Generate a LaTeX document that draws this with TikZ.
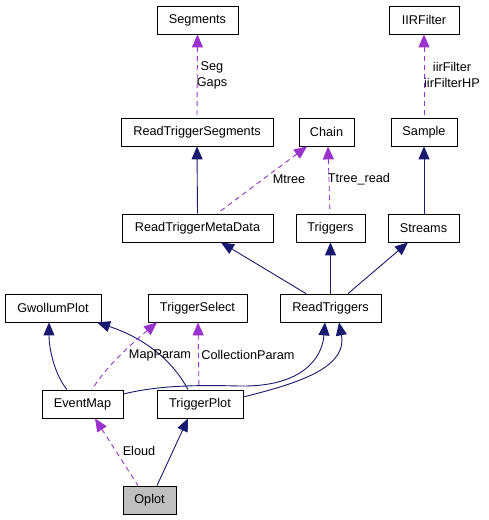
\documentclass[tikz,border=0pt]{standalone}
\usepackage{fontspec}
\setmainfont{Liberation Sans}
\usetikzlibrary{arrows.meta}
\definecolor{navyc}{HTML}{191970}
\definecolor{purc}{HTML}{9A32CD}
\definecolor{grayc}{HTML}{BFBFBF}
\tikzset{
  box/.style={draw=black, line width=0.8pt, fill=white, inner sep=0pt, minimum height=28pt,
    font=\fontsize{12.7}{14}\selectfont},
  lab/.style={inner sep=0pt, align=center, font=\fontsize{12.7}{16}\selectfont},
  inh/.style={draw=navyc, line width=0.9pt, {Triangle[length=13pt,width=11pt]}-},
  use/.style={draw=purc, line width=0.9pt, dash pattern=on 5pt off 4pt, {Triangle[length=13pt,width=11pt]}-},
}
\begin{document}
\begin{tikzpicture}[x=1pt,y=-1pt]
\useasboundingbox[fill=white] (0,0) rectangle (488,520);
\node[box, minimum width=81pt] (seg) at (197.5,20) {Segments};
\node[box, minimum width=70pt] (iir) at (424,20) {IIRFilter};
\node[box, minimum width=152pt] (rts) at (197,132) {ReadTriggerSegments};
\node[box, minimum width=55pt] (chain) at (326.5,132) {Chain};
\node[box, minimum width=66pt] (sample) at (424,132) {Sample};
\node[box, minimum width=151pt] (rtmd) at (197.5,228) {ReadTriggerMetaData};
\node[box, minimum width=69pt] (trig) at (330.5,228) {Triggers};
\node[box, minimum width=71pt] (streams) at (423.5,228) {Streams};
\node[box, minimum width=96pt] (gw) at (53,308) {GwollumPlot};
\node[box, minimum width=99pt] (tsel) at (197.5,308) {TriggerSelect};
\node[box, minimum width=101pt] (rt) at (330.5,308) {ReadTriggers};
\node[box, minimum width=81pt] (em) at (82.5,404) {EventMap};
\node[box, minimum width=86pt] (tp) at (200,404) {TriggerPlot};
\node[box, minimum width=53pt, fill=grayc] (oplot) at (149.5,500) {Oplot};

% top level
\draw[use] (seg.south) -- (rts.north);
\draw[use] (iir.south) -- (sample.north);
\draw[inh] (rts.south) -- (rtmd.north);
\draw[use] ([xshift=-19.5pt]chain.south) -- ([xshift=19.5pt]rtmd.north);
\draw[use] ([xshift=1.5pt]chain.south) -- ([xshift=-0.5pt]trig.north);
\draw[inh] (sample.south) -- ([xshift=0.5pt]streams.north);
\draw[inh] ([xshift=23.5pt]rtmd.south) -- ([xshift=-24.5pt]rt.north);
\draw[inh] (trig.south) -- (rt.north);
\draw[inh] ([xshift=-15.5pt]streams.south) -- ([xshift=17.5pt]rt.north);

% lower part
\draw[inh] ([xshift=-4pt]gw.south) .. controls (49,350) and (55,375) .. ([xshift=-15.5pt]em.north);
\draw[inh] ([xshift=44pt]gw.south) .. controls (150,340) and (175,365) .. ([xshift=-12pt]tp.north);
\draw[use] ([xshift=-40.5pt]tsel.south) .. controls (130,345) and (105,368) .. ([xshift=9.5pt]em.north);
\draw[use] ([xshift=0.5pt]tsel.south) -- ([xshift=-1pt]tp.north);
\draw[inh] ([xshift=-5.5pt]rt.south) .. controls (322,360) and (300,387) .. (240,386)
   .. controls (200,385) and (160,385) .. ([yshift=10pt]em.east);
\draw[inh] ([xshift=8.5pt]rt.south) .. controls (348,370) and (290,385) .. ([yshift=7pt]tp.east);
\draw[use] ([xshift=12.5pt]em.south) -- ([xshift=-11.5pt]oplot.north);
\draw[inh] ([xshift=-12pt]tp.south) -- ([xshift=7.5pt]oplot.north);

% labels
\node[lab] (lseg) at (212,75) {Seg\\Gaps};
\node[lab] (liir) at (452,75) {iirFilter\\iirFilterHP};
\node[lab] (lmtree) at (289,179) {Mtree};
\node[lab] (lttree) at (359,179) {Ttree\_read};
\node[lab] (lmap) at (160,355) {MapParam};
\node[lab] (lcoll) at (248,355) {CollectionParam};
\node[lab] (leloud) at (139,451) {Eloud};
\end{tikzpicture}
\end{document}
